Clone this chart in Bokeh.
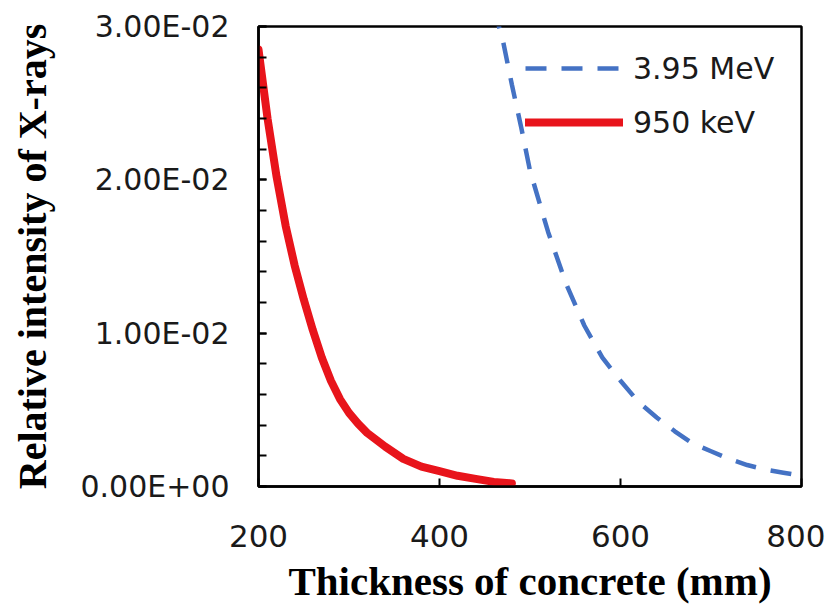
from bokeh.plotting import figure
from bokeh.models import (Range1d, SingleIntervalTicker, CustomJSTickFormatter,
                          Legend, LegendItem)
from bokeh.embed import file_html
from bokeh.resources import INLINE

# ---- data ----
x_ticks_interval = 200
y_tick_values = [0.0, 0.01, 0.02, 0.03]
y_tick_labels = ["0.00E+00", "1.00E-02", "2.00E-02", "3.00E-02"]

kev_thickness = [200, 210, 220, 230, 240, 250, 260, 270, 280, 290, 300, 310,
                 320, 340, 360, 380, 400, 420, 440, 460, 480]
kev_intensity = [0.0285, 0.0240, 0.0202, 0.0170, 0.0144, 0.0122, 0.0102,
                 0.0084, 0.0069, 0.0057, 0.0048, 0.0041, 0.0035, 0.0026,
                 0.0018, 0.0013, 0.0010, 0.0007, 0.0005, 0.0003, 0.0002]

mev_thickness = [460, 470, 480, 490, 500, 520, 540, 560, 580, 600, 620, 640,
                 660, 680, 700, 720, 740, 760, 780, 800]
mev_intensity = [0.0312, 0.0291, 0.0262, 0.0235, 0.0206, 0.0166, 0.0132,
                 0.0105, 0.0084, 0.0069, 0.0055, 0.0045, 0.0036, 0.0028,
                 0.0023, 0.0018, 0.0014, 0.0011, 0.0009, 0.0007]

series_labels = ["3.95 MeV", "950 keV"]

x_title = "Thickness of concrete (mm)"
y_title = "Relative intensity of X-rays"

# ---- figure ----
p = figure(frame_width=543, frame_height=460,
           x_range=Range1d(200, 800), y_range=Range1d(0, 0.03),
           output_backend="svg", toolbar_location=None,
           min_border_left=258, min_border_right=24,
           min_border_top=26, min_border_bottom=111)

p.grid.visible = False
p.outline_line_color = "black"
p.outline_line_width = 2.5
p.background_fill_color = "white"
p.border_fill_color = "white"

blue = p.line(mev_thickness, mev_intensity, line_color="#4472C4",
              line_width=4.5, line_dash="21 15")
red = p.line(kev_thickness, kev_intensity, line_color="#E8141B",
             line_width=8, line_cap="round", line_join="round")

# x axis
xa = p.xaxis[0]
xa.ticker = SingleIntervalTicker(interval=x_ticks_interval, num_minor_ticks=0)
xa.axis_line_width = 2.5
xa.axis_line_color = "black"
xa.major_tick_in = 8
xa.major_tick_out = 0
xa.major_tick_line_width = 2
xa.minor_tick_in = 0
xa.minor_tick_out = 0
xa.major_label_text_font = "DejaVu Sans"
xa.major_label_text_font_size = "31px"
xa.major_label_text_color = "#1a1a1a"
xa.major_label_standoff = 38
xa.axis_label = x_title
xa.axis_label_text_font = "Liberation Serif"
xa.axis_label_text_font_style = "bold"
xa.axis_label_text_font_size = "41px"
xa.axis_label_text_color = "black"
xa.axis_label_standoff = 8

# y axis
ya = p.yaxis[0]
ya.ticker = SingleIntervalTicker(interval=0.01, num_minor_ticks=5)
ya.formatter = CustomJSTickFormatter(
    args=dict(vals=y_tick_values, labs=y_tick_labels),
    code="""
    for (let i = 0; i < vals.length; i++) {
        if (Math.abs(tick - vals[i]) < 1e-9) { return labs[i]; }
    }
    return '';
    """)
ya.axis_line_width = 2.5
ya.axis_line_color = "black"
ya.major_tick_in = 8
ya.major_tick_out = 0
ya.major_tick_line_width = 2
ya.minor_tick_in = 8
ya.minor_tick_out = 0
ya.minor_tick_line_width = 2
ya.minor_tick_line_color = "black"
ya.major_label_text_font = "DejaVu Sans"
ya.major_label_text_font_size = "30px"
ya.major_label_text_color = "#1a1a1a"
ya.major_label_standoff = 29
ya.axis_label = y_title
ya.axis_label_text_font = "Liberation Serif"
ya.axis_label_text_font_style = "bold"
ya.axis_label_text_font_size = "40px"
ya.axis_label_text_color = "black"
ya.axis_label_standoff = 22

legend = Legend(items=[LegendItem(label=series_labels[0], renderers=[blue]),
                       LegendItem(label=series_labels[1], renderers=[red])],
                location=(267, 337), padding=0, margin=0, spacing=0,
                border_line_alpha=0, background_fill_alpha=0,
                glyph_width=98, glyph_height=54, label_standoff=10,
                label_text_font="DejaVu Sans", label_text_font_size="30px",
                label_text_color="#1a1a1a")
p.add_layout(legend)

open("out.html", "w").write(file_html(p, INLINE))
